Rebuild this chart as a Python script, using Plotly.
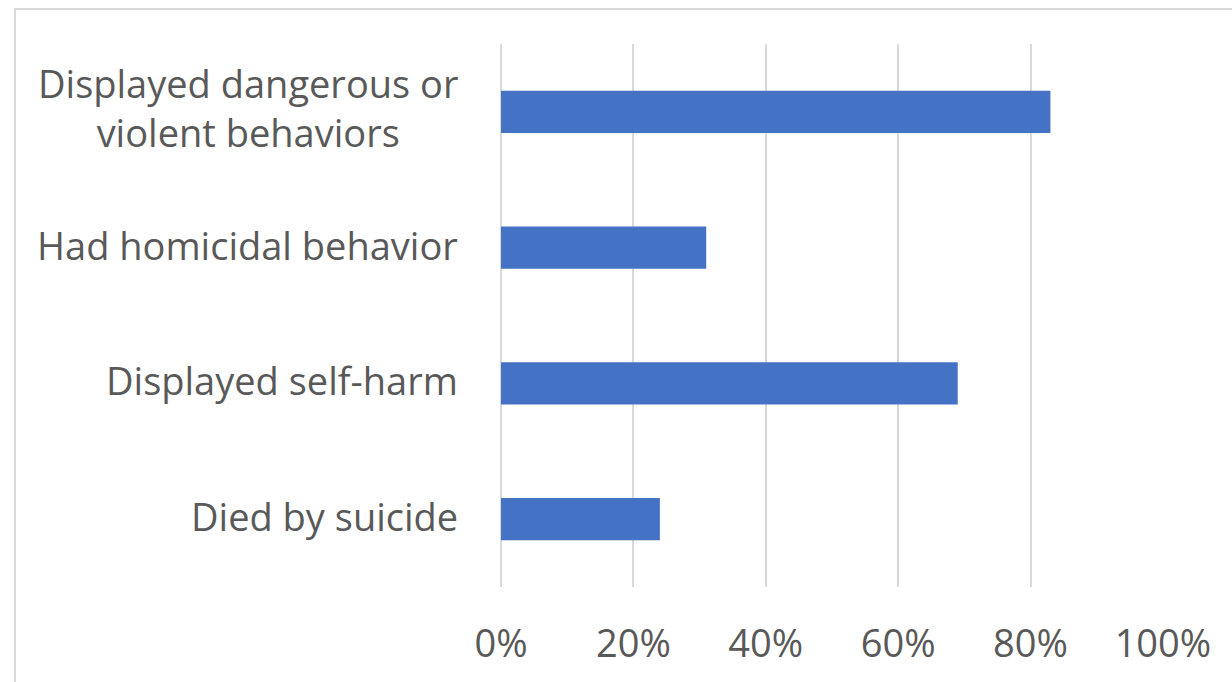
import plotly.graph_objects as go

categories = ["Displayed dangerous or<br>violent behaviors", "Had homicidal behavior",
              "Displayed self-harm", "Died by suicide"]
values = [0.83, 0.31, 0.69, 0.24]

W, H = 1232, 682
L, R, T, B = 501, 1163, 44, 587

fig = go.Figure(go.Bar(
    y=categories, x=values, orientation="h",
    marker=dict(color="#4472C4", line=dict(width=0)),
    hoverinfo="skip",
))

font = dict(family="Open Sans, sans-serif", size=38, color="#595959")

annotations = [dict(text=c, xref="paper", yref="y", x=0, y=c, xanchor="right",
                    yanchor="middle", xshift=-41, yshift=(4 if "<br>" in c else 3),
                    align="center", showarrow=False, font=font)
               for c in categories]

fig.update_layout(
    width=W, height=H,
    margin=dict(l=L, r=W - R, t=T, b=H - B, pad=0),
    paper_bgcolor="white", plot_bgcolor="white",
    bargap=0.69,
    showlegend=False,
    font=font,
    xaxis=dict(range=[0, 1.0001], dtick=0.2, tick0=0, tickformat=".0%",
               showgrid=True, gridcolor="#d9d9d9", gridwidth=1.5,
               zeroline=True, zerolinecolor="#d9d9d9", zerolinewidth=1.5,
               showline=False, ticks="",
               ticklabelstandoff=31, tickfont=font, fixedrange=True),
    yaxis=dict(autorange="reversed", showgrid=False, zeroline=False, showline=False,
               ticks="", showticklabels=False, fixedrange=True),
    annotations=annotations,
    shapes=[dict(type="rect", xref="paper", yref="paper",
                 x0=(15 - L) / (R - L), x1=1.3,
                 y0=-0.5, y1=1 + (T - 9) / (B - T),
                 line=dict(color="#d9d9d9", width=2), fillcolor="rgba(0,0,0,0)",
                 layer="below")],
)

fig.write_html("out.html", config={"displayModeBar": False})
